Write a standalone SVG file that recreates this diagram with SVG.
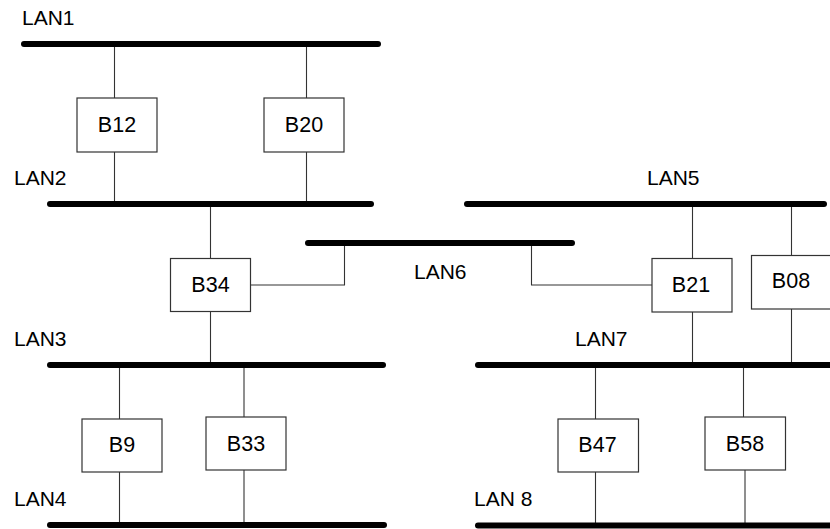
<svg xmlns="http://www.w3.org/2000/svg" width="830" height="529" viewBox="0 0 830 529">
<style>
.bar{stroke:#000;stroke-width:6;stroke-linecap:round;fill:none}
.box{fill:#fff;stroke:#333;stroke-width:1.2}
.wire{stroke:#333;stroke-width:1.1;fill:none}
text{font-family:"Liberation Sans",Arial,sans-serif;font-size:21px;fill:#000}
.c{text-anchor:middle;font-size:21.5px}
</style>
<rect width="830" height="529" fill="#fff"/>
<g id="connectors">
<line class="wire" x1="114.5" y1="44" x2="114.5" y2="98"/>
<line class="wire" x1="114.5" y1="152" x2="114.5" y2="204"/>
<line class="wire" x1="306.5" y1="44" x2="306.5" y2="98"/>
<line class="wire" x1="306.5" y1="152" x2="306.5" y2="204"/>
<line class="wire" x1="210.5" y1="204" x2="210.5" y2="258"/>
<line class="wire" x1="210.5" y1="312" x2="210.5" y2="365"/>
<polyline class="wire" points="251,285 344.5,285 344.5,243"/>
<polyline class="wire" points="531.5,243 531.5,285 652,285"/>
<line class="wire" x1="692.5" y1="204" x2="692.5" y2="258"/>
<line class="wire" x1="692.5" y1="312" x2="692.5" y2="365"/>
<line class="wire" x1="791.5" y1="204" x2="791.5" y2="255"/>
<line class="wire" x1="791.5" y1="309" x2="791.5" y2="365"/>
<line class="wire" x1="119.5" y1="365" x2="119.5" y2="419"/>
<line class="wire" x1="119.5" y1="472" x2="119.5" y2="525"/>
<line class="wire" x1="244" y1="365" x2="244" y2="417"/>
<line class="wire" x1="244" y1="470" x2="244" y2="525"/>
<line class="wire" x1="595.5" y1="365" x2="595.5" y2="419"/>
<line class="wire" x1="595.5" y1="472" x2="595.5" y2="525"/>
<line class="wire" x1="743.5" y1="365" x2="743.5" y2="417"/>
<line class="wire" x1="745" y1="470" x2="745" y2="525"/>
</g>
<g id="LAN1"><line class="bar" x1="24" y1="44" x2="378" y2="44"/><text x="22" y="25">LAN1</text></g>
<g id="LAN2"><line class="bar" x1="50" y1="204" x2="371" y2="204"/><text x="14" y="185">LAN2</text></g>
<g id="LAN3"><line class="bar" x1="50" y1="365" x2="383" y2="365"/><text x="14" y="345.5">LAN3</text></g>
<g id="LAN4"><line class="bar" x1="50" y1="525" x2="384" y2="525"/><text x="14" y="505.5">LAN4</text></g>
<g id="LAN5"><line class="bar" x1="467" y1="204" x2="824" y2="204"/><text x="647" y="185">LAN5</text></g>
<g id="LAN6"><line class="bar" x1="308" y1="243" x2="572" y2="243"/><text x="414" y="279">LAN6</text></g>
<g id="LAN7"><line class="bar" x1="478" y1="365" x2="836" y2="365"/><text x="575" y="345.5">LAN7</text></g>
<g id="LAN8"><line class="bar" x1="478" y1="525.5" x2="836" y2="525.5"/><text x="474" y="505.5">LAN 8</text></g>
<g id="B12"><rect class="box" x="77" y="98" width="80" height="54"/><text class="c" x="117" y="131.5">B12</text></g>
<g id="B20"><rect class="box" x="264" y="98" width="80" height="54"/><text class="c" x="304" y="131.5">B20</text></g>
<g id="B34"><rect class="box" x="170.5" y="258.5" width="80" height="53"/><text class="c" x="210.5" y="291.5">B34</text></g>
<g id="B21"><rect class="box" x="652" y="258.5" width="80" height="53.5"/><text class="c" x="691" y="291.5">B21</text></g>
<g id="B08"><rect class="box" x="751.5" y="255.5" width="80" height="53.5"/><text class="c" x="791" y="288">B08</text></g>
<g id="B9"><rect class="box" x="82" y="419" width="80" height="53"/><text class="c" x="122" y="451.5">B9</text></g>
<g id="B33"><rect class="box" x="206" y="417" width="80" height="53"/><text class="c" x="246" y="450.5">B33</text></g>
<g id="B47"><rect class="box" x="558" y="419" width="80.5" height="53"/><text class="c" x="597.5" y="451.5">B47</text></g>
<g id="B58"><rect class="box" x="705" y="417" width="80.5" height="53"/><text class="c" x="745" y="450.5">B58</text></g>
</svg>
